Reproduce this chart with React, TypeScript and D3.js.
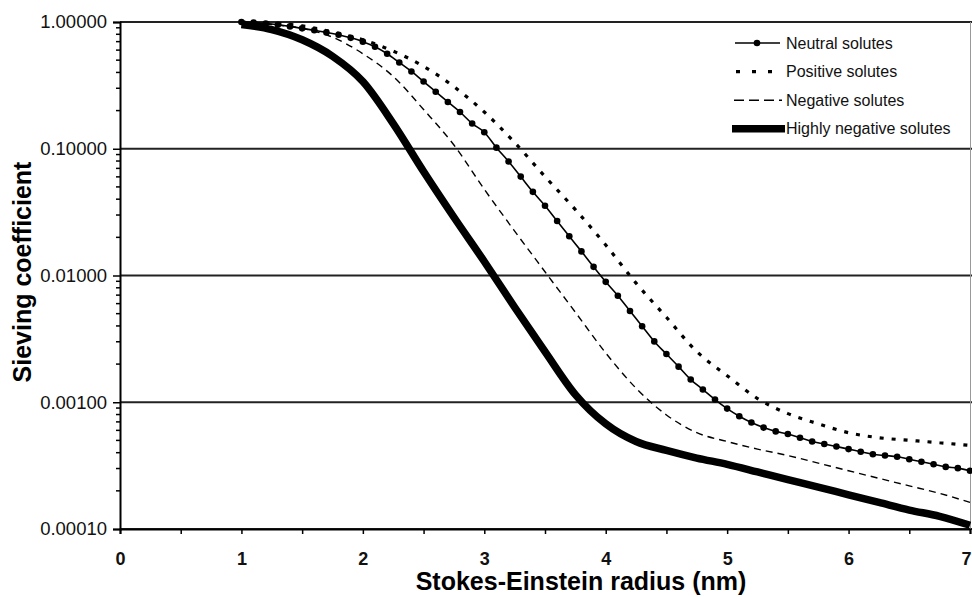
import React, { useRef, useEffect } from 'react';
import * as d3 from 'd3';

// Stokes-Einstein radius (nm)
const radiusFine: number[] = [
  1.0, 1.1, 1.2, 1.3, 1.4, 1.5, 1.6, 1.7, 1.8, 1.9,
  2.0, 2.1, 2.2, 2.3, 2.4, 2.5, 2.6, 2.7, 2.8, 2.9,
  3.0, 3.1, 3.2, 3.3, 3.4, 3.5, 3.6, 3.7, 3.8, 3.9,
  4.0, 4.1, 4.2, 4.3, 4.4, 4.5, 4.6, 4.7, 4.8, 4.9,
  5.0, 5.1, 5.2, 5.3, 5.4, 5.5, 5.6, 5.7, 5.8, 5.9,
  6.0, 6.1, 6.2, 6.3, 6.4, 6.5, 6.6, 6.7, 6.8, 6.9, 7.0,
];
const radiusCoarse: number[] = [
  1.0, 1.25, 1.5, 1.75, 2.0, 2.25, 2.5, 2.75, 3.0, 3.25, 3.5, 3.75,
  4.0, 4.25, 4.5, 4.75, 5.0, 5.25, 5.5, 5.75, 6.0, 6.25, 6.5, 6.75, 7.0,
];

const neutral: number[] = [
  1.0, 0.989, 0.973, 0.951, 0.923, 0.891, 0.861, 0.828, 0.794, 0.75,
  0.7, 0.638, 0.562, 0.479, 0.407, 0.339, 0.282, 0.234, 0.195, 0.158,
  0.135, 0.102, 0.0794, 0.0603, 0.0457, 0.0355, 0.0269, 0.0204, 0.0155, 0.0117,
  0.00891, 0.00692, 0.00525, 0.00398, 0.00302, 0.0024, 0.00191, 0.00151, 0.00126, 0.00105,
  0.000891, 0.000776, 0.000692, 0.000631, 0.000589, 0.000562, 0.000525, 0.00049, 0.000468, 0.000447,
  0.000427, 0.000407, 0.000389, 0.00038, 0.000372, 0.000355, 0.000339, 0.000324, 0.000309, 0.000302, 0.000288,
];
const positive: number[] = [
  1.0, 0.977, 0.933, 0.832, 0.724, 0.589, 0.447, 0.309, 0.195, 0.112, 0.0603, 0.0331,
  0.0174, 0.00871, 0.00468, 0.00251, 0.00162, 0.00107, 0.000813, 0.000676, 0.000575, 0.000525, 0.000501, 0.000479, 0.000457,
];
const negative: number[] = [
  1.0, 0.955, 0.891, 0.759, 0.562, 0.372, 0.204, 0.107, 0.0479, 0.0224, 0.0107, 0.00513,
  0.00245, 0.00129, 0.000794, 0.000575, 0.00049, 0.000427, 0.00038, 0.000331, 0.000288, 0.000251, 0.000219, 0.000191, 0.000162,
];
const highlyNegative: number[] = [
  0.955, 0.871, 0.724, 0.537, 0.339, 0.158, 0.0661, 0.0288, 0.0129, 0.00562, 0.00251, 0.00115,
  0.000676, 0.00049, 0.000417, 0.000363, 0.000324, 0.000282, 0.000245, 0.000214, 0.000186, 0.000162, 0.000141, 0.000126, 0.000107,
];

const yTicks: number[] = [1, 0.1, 0.01, 0.001, 0.0001];
const legendLabels: string[] = ['Neutral solutes', 'Positive solutes', 'Negative solutes', 'Highly negative solutes'];

const W = 972;
const H = 597;
const FONT = '"Liberation Sans", Arial, Helvetica, sans-serif';

const Chart: React.FC = () => {
  const ref = useRef<SVGSVGElement>(null);

  useEffect(() => {
    if (!ref.current) return;
    const svg = d3.select(ref.current);
    svg.selectAll('*').remove();

    const x = d3.scaleLinear().domain([0, 7]).range([120, 970]);
    const y = d3.scaleLog().domain([0.0001, 1]).range([529, 22]);

    svg.append('rect').attr('width', W).attr('height', H).attr('fill', '#fff');

    // horizontal grid at each decade
    svg.append('g')
      .selectAll('line')
      .data(yTicks)
      .enter()
      .append('line')
      .attr('x1', x(0)).attr('x2', W)
      .attr('y1', d => y(d)).attr('y2', d => y(d))
      .attr('stroke', '#222').attr('stroke-width', 2);

    // right frame
    svg.append('line')
      .attr('x1', 970.5).attr('x2', 970.5)
      .attr('y1', y(1)).attr('y2', y(0.0001))
      .attr('stroke', '#999').attr('stroke-width', 1);

    // y axis (log, minor ticks)
    const yAxis = d3.axisLeft(y)
      .tickValues(yTicks)
      .tickFormat(d => d3.format('.5f')(d as number))
      .tickSize(7)
      .tickPadding(6);
    const gy = svg.append('g').attr('transform', `translate(${x(0)},0)`).call(yAxis);
    gy.select('.domain').attr('stroke', '#000').attr('stroke-width', 2);
    gy.selectAll('.tick line').attr('stroke', '#000').attr('stroke-width', 1.5);
    gy.selectAll('.tick text')
      .attr('font-family', FONT).attr('font-size', 18.5).attr('fill', '#111');

    const minor: number[] = [];
    yTicks.slice(1).forEach(base => {
      for (let k = 2; k <= 9; k++) minor.push(base * k);
    });
    gy.append('g')
      .selectAll('line')
      .data(minor)
      .enter()
      .append('line')
      .attr('x1', -4).attr('x2', 0)
      .attr('y1', d => y(d)).attr('y2', d => y(d))
      .attr('stroke', '#000').attr('stroke-width', 1.5);

    // x axis
    const xAxis = d3.axisBottom(x)
      .tickValues(d3.range(0, 7.01, 0.5))
      .tickFormat(d => (Number(d) % 1 === 0 ? String(d) : ''))
      .tickSize(5)
      .tickPadding(18);
    const gx = svg.append('g').attr('transform', `translate(0,${y(0.0001)})`).call(xAxis);
    gx.select('.domain').attr('stroke', '#000').attr('stroke-width', 2);
    gx.selectAll('.tick line').attr('stroke', '#000').attr('stroke-width', 1.5);
    gx.selectAll('.tick text')
      .attr('font-family', FONT).attr('font-size', 18).attr('font-weight', 'bold').attr('fill', '#111')
      .attr('text-anchor', d => (Number(d) === 7 ? 'end' : 'middle'))
      .attr('dx', d => (Number(d) === 7 ? 1 : 0));

    // axis titles
    svg.append('text')
      .attr('x', 581).attr('y', 590)
      .attr('text-anchor', 'middle')
      .attr('font-family', FONT).attr('font-size', 25).attr('font-weight', 'bold')
      .text('Stokes-Einstein radius (nm)');
    svg.append('text')
      .attr('transform', 'translate(31,272) rotate(-90)')
      .attr('text-anchor', 'middle')
      .attr('font-family', FONT).attr('font-size', 25).attr('font-weight', 'bold')
      .text('Sieving coefficient');

    const line = d3.line<[number, number]>()
      .x(d => x(d[0]))
      .y(d => y(d[1]))
      .curve(d3.curveMonotoneX);

    const zipCoarse = (vals: number[]) => radiusCoarse.map((r, i) => [r, vals[i]] as [number, number]);
    const neutralPts = radiusFine.map((r, i) => [r, neutral[i]] as [number, number]);

    const plot = svg.append('g');
    plot.append('path')
      .attr('d', line(zipCoarse(highlyNegative)) as string)
      .attr('fill', 'none').attr('stroke', '#000').attr('stroke-width', 7.5);
    plot.append('path')
      .attr('d', line(zipCoarse(negative)) as string)
      .attr('fill', 'none').attr('stroke', '#000').attr('stroke-width', 1.4)
      .attr('stroke-dasharray', '7,5');
    plot.append('path')
      .attr('d', line(zipCoarse(positive)) as string)
      .attr('fill', 'none').attr('stroke', '#000').attr('stroke-width', 3.2)
      .attr('stroke-dasharray', '4,8');
    plot.append('path')
      .attr('d', line(neutralPts) as string)
      .attr('fill', 'none').attr('stroke', '#000').attr('stroke-width', 1.6);
    plot.append('g')
      .selectAll('circle')
      .data(neutralPts)
      .enter()
      .append('circle')
      .attr('cx', d => x(d[0]))
      .attr('cy', d => y(d[1]))
      .attr('r', 3.3)
      .attr('fill', '#000');

    // legend
    const lg = svg.append('g').attr('transform', 'translate(734,43)');
    const rowH = 28.6;
    const items = lg.selectAll('g')
      .data(legendLabels)
      .enter()
      .append('g')
      .attr('transform', (d, i) => `translate(0,${i * rowH})`);
    items.append('text')
      .attr('x', 52).attr('dy', '0.35em')
      .attr('font-family', FONT).attr('font-size', 16).attr('fill', '#111')
      .text(d => d);

    const r0 = lg.select('g:nth-child(1)');
    r0.append('line').attr('x1', 1).attr('x2', 46).attr('stroke', '#000').attr('stroke-width', 1.6);
    r0.append('circle').attr('cx', 23).attr('r', 3.3).attr('fill', '#000');
    lg.select('g:nth-child(2)').append('line')
      .attr('x1', 2).attr('x2', 46).attr('stroke', '#000').attr('stroke-width', 3.2)
      .attr('stroke-dasharray', '4,12');
    lg.select('g:nth-child(3)').append('line')
      .attr('x1', 0).attr('x2', 48).attr('stroke', '#000').attr('stroke-width', 1.4)
      .attr('stroke-dasharray', '10,5');
    lg.select('g:nth-child(4)').append('line')
      .attr('x1', -2).attr('x2', 51).attr('stroke', '#000').attr('stroke-width', 7.5);
  }, []);

  return <svg ref={ref} width={W} height={H} style={{ position: 'absolute', left: 0, top: 0 }} />;
};

export default function App() {
  return <Chart />;
}
